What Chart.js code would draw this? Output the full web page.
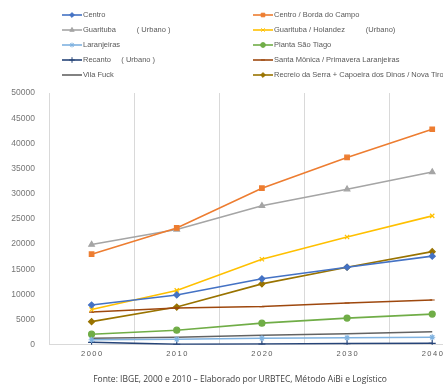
<!DOCTYPE html>
<html>
<head>
<meta charset="utf-8">
<script src="https://cdn.jsdelivr.net/npm/chart.js@4/dist/chart.umd.min.js"></script>
<style>
  html, body { margin: 0; padding: 0; background: #fff; overflow: hidden; }
  #wrap { position: relative; width: 480px; height: 387px; }
</style>
</head>
<body>
<div id="wrap"><canvas id="grafico"></canvas></div>
<script>
// anos do eixo x
const anos = ['2000', '2010', '2020', '2030', '2040'];

// população por localidade
const centro = [7900, 9900, 13100, 15400, 17600];
const centroBorda = [18000, 23200, 31100, 37200, 42800];
const guarituba = [19900, 22900, 27600, 30900, 34300];
const guaritubaHolandez = [7000, 10800, 17000, 21400, 25600];
const laranjeiras = [1000, 1100, 1300, 1400, 1500];
const plantaSaoTiago = [2100, 2900, 4300, 5300, 6100];
const recanto = [500, 100, 150, 250, 300];
const santaMonica = [6500, 7300, 7600, 8300, 8900];
const vilaFuck = [1300, 1500, 1900, 2200, 2600];
const recreio = [4600, 7500, 12100, 15400, 18500];

const fonte = 'Fonte: IBGE, 2000 e 2010 – Elaborado por URBTEC, Método AiBi e Logístico';

function serie(label, data, cor, estilo, raio) {
    return {
        label: label,
        data: data,
        borderColor: cor,
        backgroundColor: cor,
        borderWidth: 1.6,
        pointStyle: estilo,
        pointRadius: raio,
        pointBorderWidth: 1.2,
        tension: 0
    };
}

// legenda em duas colunas, desenhada no canvas
const legendaDuasColunas = {
    id: 'legendaDuasColunas',
    afterDraw(chart) {
        const ctx = chart.ctx;
        ctx.save();
        ctx.font = '7.5px "Liberation Sans", Arial, sans-serif';
        ctx.textBaseline = 'middle';
        chart.data.datasets.forEach((ds, i) => {
            const col = i % 2;
            const row = Math.floor(i / 2);
            const x0 = col === 0 ? 62 : 253;
            const y = 15 + row * 15;
            ctx.strokeStyle = ds.borderColor;
            ctx.fillStyle = ds.borderColor;
            ctx.lineWidth = 1.6;
            ctx.beginPath();
            ctx.moveTo(x0, y);
            ctx.lineTo(x0 + 20, y);
            ctx.stroke();
            if (ds.pointRadius > 0) {
                ctx.lineWidth = 1;
                Chart.helpers.drawPoint(ctx, { pointStyle: ds.pointStyle, radius: ds.pointRadius * 0.8, borderWidth: 1, rotation: 0 }, x0 + 10, y);
            }
            ctx.fillStyle = '#595959';
            ctx.fillText(ds.label, x0 + 21, y);
        });
        ctx.restore();
    }
};

new Chart(document.getElementById('grafico'), {
    type: 'line',
    data: {
        labels: anos,
        datasets: [
            serie('Centro', centro, '#4472c4', 'rectRot', 3),
            serie('Centro / Borda do Campo', centroBorda, '#ed7d31', 'rect', 3.2),
            serie('Guarituba          ( Urbano )', guarituba, '#a5a5a5', 'triangle', 3.2),
            serie('Guarituba / Holandez          (Urbano)', guaritubaHolandez, '#ffc000', 'crossRot', 3),
            serie('Laranjeiras', laranjeiras, '#7fb2e0', 'star', 3),
            serie('Planta São Tiago', plantaSaoTiago, '#70ad47', 'circle', 3),
            serie('Recanto     ( Urbano )', recanto, '#264478', 'cross', 3.5),
            serie('Santa Mônica / Primavera Laranjeiras', santaMonica, '#9e480e', 'line', 2.5),
            serie('Vila Fuck', vilaFuck, '#636363', 'circle', 0),
            serie('Recreio da Serra + Capoeira dos Dinos / Nova Tirol', recreio, '#997300', 'rectRot', 3)
        ]
    },
    options: {
        responsive: true,
        maintainAspectRatio: false,
        animation: false,
        layout: { padding: { top: 93, right: 0, left: 0, bottom: 0 } },
        plugins: {
            legend: { display: false },
            tooltip: { enabled: false },
            title: {
                display: true,
                position: 'bottom',
                text: fonte,
                color: '#404040',
                font: { family: '"Open Sans", sans-serif', size: 8.5, weight: 'normal' },
                padding: { top: 10, bottom: 2 }
            }
        },
        scales: {
            x: {
                offset: true,
                grid: { display: true, color: '#d9d9d9', offset: true, drawTicks: false, lineWidth: 1 },
                border: { display: true, color: '#d9d9d9' },
                ticks: {
                    color: '#595959',
                    padding: 5,
                    maxRotation: 0,
                    font: { family: '"Liberation Sans", sans-serif', size: 7.5 },
                    callback: function (v) { return this.getLabelForValue(v).split('').join('\u2009'); }
                },
                afterFit(s) { s.height = 20; }
            },
            y: {
                min: 0,
                max: 50000,
                grid: { display: false },
                border: { display: false },
                ticks: {
                    stepSize: 5000,
                    color: '#767676',
                    padding: 6,
                    font: { family: '"Liberation Sans", sans-serif', size: 8.5 },
                    callback: v => String(v)
                },
                afterFit(s) { s.width = 49; }
            }
        }
    },
    plugins: [legendaDuasColunas]
});
</script>
</body>
</html>
